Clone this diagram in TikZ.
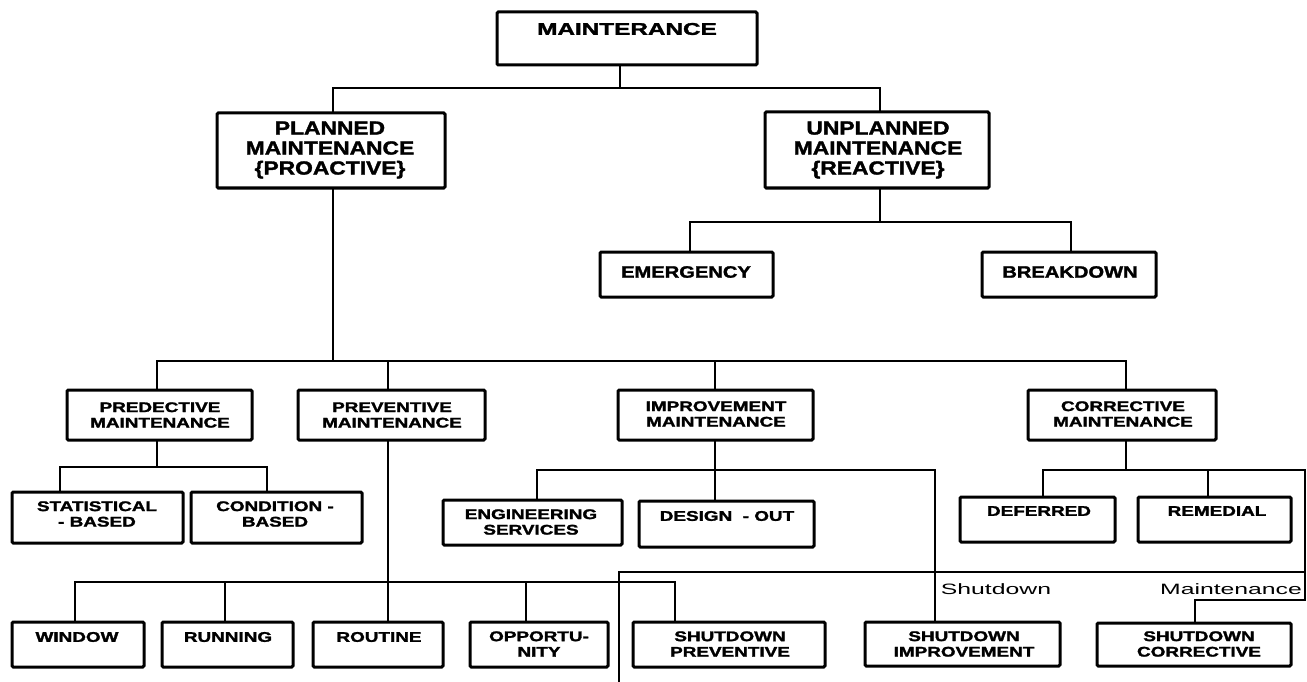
\documentclass[tikz,border=0pt]{standalone}
\usepackage{fontspec}
\setmainfont{Liberation Sans}[BoldFeatures={FakeBold=1.6}]
\newcommand\bx[5]{\node[box,minimum width={#4-#2},minimum height={#5-#3}] (#1) at (#2,#3) {};}
\begin{document}
\begin{tikzpicture}[x=1pt,y=-1pt,
  box/.style={draw=black,line width=3pt,rounded corners=1.2pt,inner sep=0pt,outer sep=0pt,anchor=north west},
  conn/.style={line width=2.8pt,line join=miter},
  thinln/.style={line width=2pt},
  lbl/.style={inner sep=0pt,align=center,font=\fontsize{14}{15.5}\selectfont\bfseries,xscale=1.35},
  lblE/.style={inner sep=0pt,align=center,font=\fontsize{16.5}{18}\selectfont\bfseries,xscale=1.22},
  lblP/.style={inner sep=0pt,align=center,font=\fontsize{19}{20}\selectfont\bfseries,xscale=1.2},
  lblT/.style={inner sep=0pt,align=center,font=\fontsize{17}{20}\selectfont\bfseries,xscale=1.43},
  note/.style={inner sep=0pt,font=\fontsize{15}{18}\selectfont,xscale=1.65}]
\useasboundingbox (0,0) rectangle (1307,682);
% boxes
\bx{m}{497}{12}{757}{65}
\bx{pl}{217}{113}{445}{188}
\bx{un}{765}{112}{989}{188}
\bx{em}{600}{252}{773}{297}
\bx{br}{982}{252}{1156}{297}
\bx{pd}{67}{390}{252}{440}
\bx{pv}{298}{390}{485}{440}
\bx{im}{618}{390}{813}{440}
\bx{co}{1028}{390}{1216}{440}
\bx{st}{12}{492}{183}{543}
\bx{cd}{191}{492}{362}{543}
\bx{en}{443}{500}{622}{545}
\bx{ds}{639}{501}{814}{547}
\bx{df}{960}{497}{1115}{542}
\bx{rm}{1138}{497}{1291}{542}
\bx{wi}{12}{622}{144}{667}
\bx{ru}{162}{622}{293}{667}
\bx{ro}{313}{622}{443}{667}
\bx{op}{470}{622}{608}{667}
\bx{sp}{633}{622}{825}{667}
\bx{si}{865}{622}{1060}{666}
\bx{sc}{1097}{623}{1291}{666}
% labels
\node[lblT] (t-m) at (627,29) {MAINTERANCE};
\node[lblP] (t-pl) at (330,150) {PLANNED\\MAINTENANCE\\\{PROACTIVE\}};
\node[lblP] (t-un) at (878,150) {UNPLANNED\\MAINTENANCE\\\{REACTIVE\}};
\node[lblE] (t-em) at (686,272) {EMERGENCY};
\node[lblE] (t-br) at (1070,272) {BREAKDOWN};
\node[lbl] (t-pd) at (160,415) {PREDECTIVE\\MAINTENANCE};
\node[lbl] (t-pv) at (392,415) {PREVENTIVE\\MAINTENANCE};
\node[lbl] (t-im) at (716,414) {IMPROVEMENT\\MAINTENANCE};
\node[lbl] (t-co) at (1123,414) {CORRECTIVE\\MAINTENANCE};
\node[lbl] (t-st) at (97,514) {STATISTICAL\\- BASED};
\node[lbl] (t-cd) at (275,514) {CONDITION -\\BASED};
\node[lbl] (t-en) at (531,522) {ENGINEERING\\SERVICES};
\node[lbl] (t-ds) at (727,516) {DESIGN \ - OUT};
\node[lbl] (t-df) at (1039,511) {DEFERRED};
\node[lbl] (t-rm) at (1217,511) {REMEDIAL};
\node[lbl] (t-wi) at (77,637) {WINDOW};
\node[lbl] (t-ru) at (228,637) {RUNNING};
\node[lbl] (t-ro) at (379,637) {ROUTINE};
\node[lbl] (t-op) at (539,644) {OPPORTU-\\NITY};
\node[lbl] (t-sp) at (730,644) {SHUTDOWN\\PREVENTIVE};
\node[lbl] (t-si) at (964,644) {SHUTDOWN\\IMPROVEMENT};
\node[lbl] (t-sc) at (1199,644) {SHUTDOWN\\CORRECTIVE};
\node[note] (sh) at (996,589) {Shutdown};
\node[note] (mt) at (1231,589) {Maintenance};
% junction coordinates
\coordinate (j1) at (620,88);
\coordinate (j1a) at (333,88);
\coordinate (j1b) at (880,88);
\coordinate (j2) at (880,222);
\coordinate (j2a) at (690,222);
\coordinate (j2b) at (1071,222);
\coordinate (j3) at (333,361);
\coordinate (j3a) at (157,361);
\coordinate (j3b) at (388,361);
\coordinate (j3c) at (715,361);
\coordinate (j3d) at (1126,361);
\coordinate (j4) at (157,467);
\coordinate (j4a) at (60,467);
\coordinate (j4b) at (267,467);
\coordinate (j5a) at (75,582);
\coordinate (j5b) at (225,582);
\coordinate (j5c) at (526,582);
\coordinate (j5d) at (675,582);
\coordinate (j6) at (715,470);
\coordinate (j6a) at (537,470);
\coordinate (j6b) at (935,470);
\coordinate (j7) at (1126,470);
\coordinate (j7a) at (1043,470);
\coordinate (j7b) at (1208,470);
\coordinate (j7c) at (1305,470);
\coordinate (j7d) at (1305,600);
\coordinate (j7e) at (1195,600);
\coordinate (l1) at (619,682);
\coordinate (l2) at (619,572);
\coordinate (l3) at (1305,572);
% connectors
\draw[conn] (m.south -| j1) -- (j1);
\draw[conn] (pl.north -| j1a) -- (j1a) -- (j1b) -- (un.north -| j1b);
\draw[conn] (un.south -| j2) -- (j2);
\draw[conn] (em.north -| j2a) -- (j2a) -- (j2b) -- (br.north -| j2b);
\draw[conn] (pl.south -| j3) -- (j3);
\draw[conn] (pd.north -| j3a) -- (j3a) -- (j3d) -- (co.north -| j3d);
\draw[conn] (pv.north -| j3b) -- (j3b);
\draw[conn] (im.north -| j3c) -- (j3c);
\draw[conn] (pd.south -| j4) -- (j4);
\draw[conn] (st.north -| j4a) -- (j4a) -- (j4b) -- (cd.north -| j4b);
\draw[conn] (pv.south -| j3b) -- (ro.north -| j3b);
\draw[conn] (wi.north -| j5a) -- (j5a) -- (j5d) -- (sp.north -| j5d);
\draw[conn] (ru.north -| j5b) -- (j5b);
\draw[conn] (op.north -| j5c) -- (j5c);
\draw[conn] (im.south -| j6) -- (ds.north -| j6);
\draw[conn] (en.north -| j6a) -- (j6a) -- (j6b) -- (si.north -| j6b);
\draw[conn] (co.south -| j7) -- (j7);
\draw[conn] (df.north -| j7a) -- (j7a) -- (j7c) -- (j7d) -- (j7e) -- (sc.north -| j7e);
\draw[conn] (rm.north -| j7b) -- (j7b);
\draw[thinln] (l1) -- (l2) -- (l3);
\end{tikzpicture}
\end{document}
